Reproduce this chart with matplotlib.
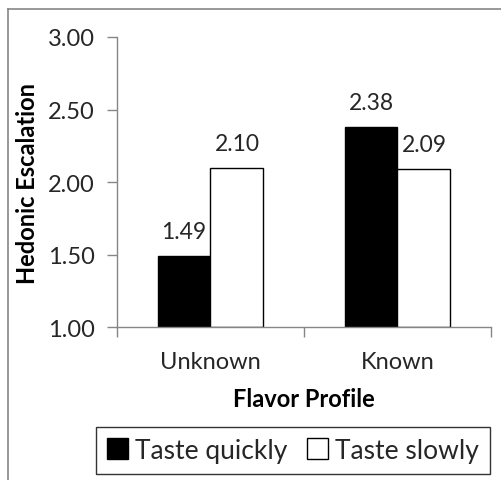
import matplotlib.pyplot as plt
from matplotlib.lines import Line2D
from matplotlib.patches import Patch

plt.rcParams["font.family"] = ["Lato", "DejaVu Sans"]

categories = ["Unknown", "Known"]
series_names = ["Taste quickly", "Taste slowly"]
quick_values = [1.49, 2.38]
slow_values = [2.10, 2.09]
y_ticks = [1.00, 1.50, 2.00, 2.50, 3.00]

AXIS_GRAY = "#868686"
TEXT = "#262626"

fig = plt.figure(figsize=(5.01, 4.81), dpi=100)
ax = fig.add_axes([0.2335, 0.318, 0.7465, 0.603])

bar_width = 0.283
positions = [1, 2]
quick_x = [p - bar_width / 2 for p in positions]
slow_x = [p + bar_width / 2 for p in positions]
ax.bar(quick_x, [v - 1 for v in quick_values], bottom=1, width=bar_width,
       color="black", edgecolor="black", linewidth=1)
ax.bar(slow_x, [v - 1 for v in slow_values], bottom=1, width=bar_width,
       color="white", edgecolor="black", linewidth=1)

for x, v in zip(quick_x + slow_x, quick_values + slow_values):
    ax.annotate(f"{v:.2f}", xy=(x, v), xytext=(0, 10), textcoords="offset points",
                ha="center", va="bottom", fontsize=16.5, color=TEXT)

ax.set_xlim(0.5, 2.5)
ax.set_ylim(1.0, 3.0)
ax.set_yticks(y_ticks)
ax.set_yticklabels([f"{t:.2f}" for t in y_ticks])

# category boundaries carry the tick marks, names sit at the centres
ax.set_xticks([0.5, 1.5, 2.5])
ax.set_xticklabels([])
ax.set_xticks(positions, minor=True)
ax.set_xticklabels(categories, minor=True)
ax.tick_params(axis="x", which="major", length=7, color=AXIS_GRAY, width=1)
ax.tick_params(axis="x", which="minor", length=0, pad=17, labelsize=17, labelcolor=TEXT)
ax.tick_params(axis="y", length=7, color=AXIS_GRAY, width=1, pad=9,
               labelsize=17, labelcolor=TEXT)

for side in ("top", "right"):
    ax.spines[side].set_visible(False)
for side in ("left", "bottom"):
    ax.spines[side].set_color(AXIS_GRAY)
    ax.spines[side].set_linewidth(1)

ax.set_ylabel("Hedonic Escalation", fontsize=17, fontweight="bold", color="black", labelpad=6)
ax.set_xlabel("Flavor Profile", fontsize=17, fontweight="bold", color="black", labelpad=11)

handles = [Patch(facecolor="black", edgecolor="black"),
           Patch(facecolor="white", edgecolor="black")]
leg = fig.legend(handles, series_names, loc="center", bbox_to_anchor=(0.585, 0.062),
                 ncol=2, fontsize=19, frameon=True, fancybox=False, handlelength=0.8,
                 handleheight=0.8, handletextpad=0.25, columnspacing=0.75,
                 borderpad=0.42, labelcolor=TEXT)
leg.get_frame().set_edgecolor("black")
leg.get_frame().set_linewidth(1)

# outer chart border, only the top and left edges are inside the canvas
x0, y0 = 8 / 501, 1 - 10 / 481
fig.add_artist(Line2D([x0, x0], [0, y0], color=AXIS_GRAY, linewidth=1.2))
fig.add_artist(Line2D([x0, 1], [y0, y0], color=AXIS_GRAY, linewidth=1.2))

fig.savefig("out.png", dpi=100)
